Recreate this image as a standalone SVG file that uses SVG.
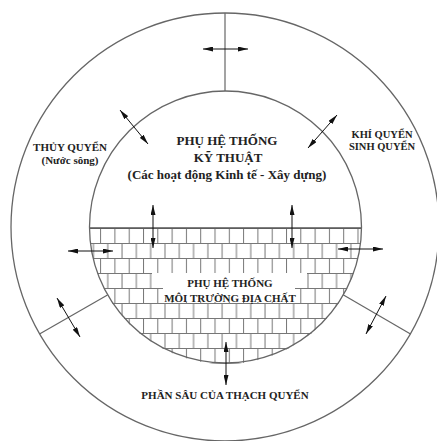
<svg xmlns="http://www.w3.org/2000/svg" width="437" height="441" viewBox="0 0 437 441">
<style>
.ring{fill:none;stroke:#666;stroke-width:1.3}
.div{fill:none;stroke:#666;stroke-width:1.2}
.arr{fill:none;stroke:#111;stroke-width:1;marker-start:url(#ah);marker-end:url(#ah)}
text{font-family:"Liberation Serif","Times New Roman",serif;font-weight:bold;fill:#222;text-anchor:middle}
.t13{font-size:13px}
.t11{font-size:11px}
.t105{font-size:10.5px}
</style>
<defs>
<marker id="ah" viewBox="0 0 10 5" refX="10" refY="2.5" markerWidth="10" markerHeight="5" markerUnits="userSpaceOnUse" orient="auto-start-reverse">
<path d="M0,0 L10,2.5 L0,5 Z" fill="#111"/>
</marker>
<pattern id="brick" patternUnits="userSpaceOnUse" x="0" y="228" width="14.3" height="30">
<rect width="14.3" height="30" fill="#fff"/>
<path d="M0,0.5 H14.3 M0,15.5 H14.3 M0.5,0 V15 M7.65,15 V30" stroke="#777" stroke-width="1" fill="none"/>
</pattern>
</defs>
<rect width="437" height="441" fill="#fff"/>

<g id="outer-ring">
<circle class="ring" cx="225" cy="227" r="214"/>
</g>

<g id="geo-subsystem">
<path d="M89.5,228 A136,136 0 0 0 361.5,228 Z" fill="url(#brick)"/>
<rect x="152" y="273" width="155" height="15" fill="#fff"/>
<rect x="163" y="287" width="132" height="15" fill="#fff"/>
<line x1="89.5" y1="228" x2="361.5" y2="228" stroke="#555" stroke-width="1.3"/>
<text class="t11" x="230" y="287">PHỤ HỆ THỐNG</text>
<text class="t11" x="230" y="302">MÔI TRƯỜNG ĐỊA CHẤT</text>
</g>

<g id="tech-subsystem">
<circle class="ring" cx="225.5" cy="227" r="136"/>
<text class="t13" x="227" y="145">PHỤ HỆ THỐNG</text>
<text class="t13" x="228" y="162">KỸ THUẬT</text>
<text class="t13" x="227" y="179">(Các hoạt động Kinh tế - Xây dựng)</text>
</g>

<g id="hydrosphere">
<text class="t11" x="70" y="151">THỦY QUYỂN</text>
<text class="t11" x="70" y="164">(Nước sông)</text>
</g>

<g id="atmosphere">
<text class="t105" x="382" y="138">KHÍ QUYỂN</text>
<text class="t105" x="382" y="150">SINH QUYỂN</text>
</g>

<g id="lithosphere">
<text class="t11" x="225" y="399">PHẦN SÂU CỦA THẠCH QUYỂN</text>
</g>

<g id="connectors">
<line class="div" x1="225" y1="13" x2="225" y2="91"/>
<line class="div" x1="107.5" y1="295" x2="39.5" y2="334"/>
<line class="div" x1="343.5" y1="295" x2="410.5" y2="334"/>
<line class="arr" x1="203" y1="49" x2="248" y2="49"/>
<line class="arr" x1="120" y1="110" x2="148" y2="144"/>
<line class="arr" x1="337" y1="115" x2="308" y2="148"/>
<line class="arr" x1="153" y1="205" x2="153" y2="248"/>
<line class="arr" x1="292" y1="205" x2="292" y2="248"/>
<line class="arr" x1="68" y1="251" x2="113" y2="251"/>
<line class="arr" x1="338" y1="249" x2="383" y2="249"/>
<line class="arr" x1="226" y1="342" x2="226" y2="385"/>
<line class="arr" x1="57" y1="298" x2="80" y2="337"/>
<line class="arr" x1="386" y1="296" x2="366" y2="334"/>
</g>
</svg>
